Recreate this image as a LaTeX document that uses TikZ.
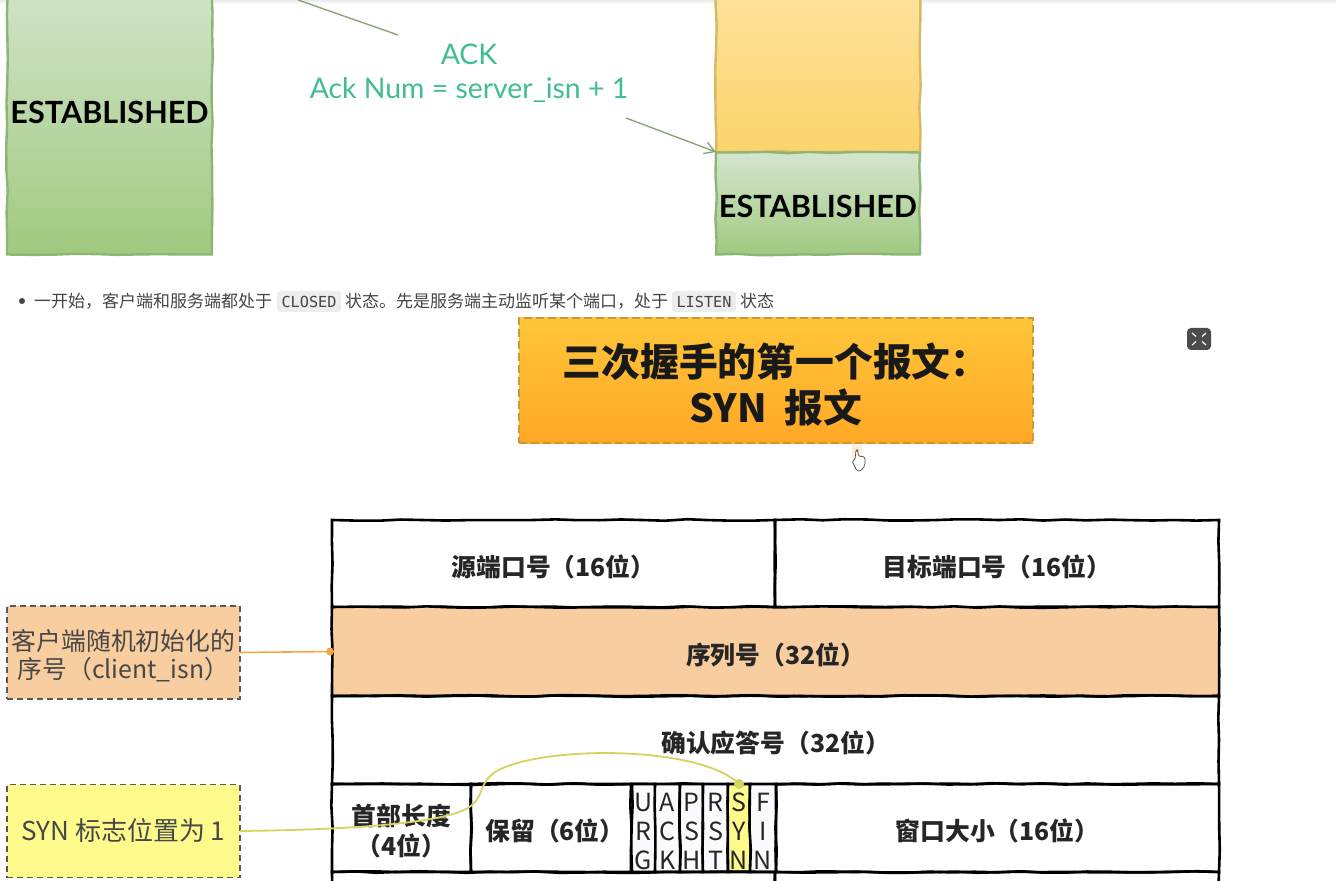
\documentclass[tikz,border=0pt]{standalone}
\usepackage{fontspec}
\setmainfont{Noto Sans CJK SC}
\newfontfamily\latinfont{Lato}
\newfontfamily\codefont{DejaVu Sans Mono}
\usetikzlibrary{decorations.pathmorphing,arrows.meta}
\definecolor{estline}{HTML}{8FB573}
\definecolor{estlight}{HTML}{D5E5CF}
\definecolor{estfill}{HTML}{A0C97F}
\definecolor{yelline}{HTML}{D6B963}
\definecolor{yellight}{HTML}{FEE39F}
\definecolor{yelfill}{HTML}{FCD46C}
\definecolor{titleline}{HTML}{C99A3A}
\definecolor{titletop}{HTML}{FFC63A}
\definecolor{titlebot}{HTML}{FFA826}
\definecolor{acktext}{HTML}{3FBE8E}
\definecolor{seqfill}{HTML}{F8CD9F}
\definecolor{synfill}{HTML}{FFFA8C}
\definecolor{synline}{HTML}{D6D25E}
\definecolor{orgline}{HTML}{EFA84A}
\definecolor{bodytext}{HTML}{444444}
\newcommand{\low}[1]{\raisebox{-1.5pt}[\height][\depth]{#1}}
\tikzset{
    rough/.style={decorate,decoration={random steps,segment length=11pt,amplitude=0.4pt}},
    box/.style={rectangle,inner sep=0pt,outer sep=0pt,rough},
    estbox/.style={box,draw=estline,line width=1.2pt,top color=estlight,bottom color=estfill,font=\bfseries\latinfont\fontsize{15.3}{17}\selectfont},
    cell/.style={box,draw=black,line width=1.3pt,font=\bfseries\fontsize{12.4}{15}\selectfont,text=black!85},
    flag/.style={cell,fill=blue!2,minimum width=11.5pt,minimum height=44pt,align=center,font=\fontsize{12.5}{14.5}\selectfont},
    note/.style={rectangle,inner sep=0pt,outer sep=0pt,draw=black!65,densely dashed,line width=.6pt,minimum width=116.5pt,minimum height=46.5pt,align=center,text=black!72,font=\fontsize{12.4}{14}\selectfont},
    para/.style={inner sep=0pt,outer sep=0pt,text=bodytext,font=\fontsize{8.5}{10}\selectfont},
    chip/.style={rectangle,rounded corners=1.5pt,inner sep=0pt,outer sep=0pt,fill=black!7,text=bodytext,minimum height=10.5pt,font=\codefont\fontsize{7.6}{9}\selectfont},
    ackline/.style={draw=estline!70!gray,line width=.7pt},
}
\begin{document}
\begin{tikzpicture}[x=.5pt,y=-.5pt,>={Straight Barb[length=5pt,width=6pt]}]
    \useasboundingbox (0,0) rectangle (1336,881);
    \clip (0,0) rectangle (1336,881);
    % page edge at the top
    \fill[top color=black!8,bottom color=white] (0,0) rectangle (1336,4);
    % state columns
    \node[estbox,minimum width=102.5pt,minimum height=142pt] (clientest) at (109.5,112.5) {ESTABLISHED};
    \node[box,draw=yelline,line width=1.2pt,top color=yellight,bottom color=yelfill,minimum width=102pt,minimum height=85pt] (serverwait) at (818,67) {};
    \node[estbox,minimum width=102pt,minimum height=51pt] (serverest) at (818,203.5) {\low{ESTABLISHED}};
    % ack message
    \node[inner sep=0pt,text=acktext,align=center,font=\latinfont\fontsize{14.2}{16.8}\selectfont] (ack) at (469,73) {ACK\\Ack Num = server\_isn + 1};
    \coordinate (ackstart) at (298,0);
    \coordinate (ackmid) at (398,35);
    \coordinate (ackgo) at (626,118);
    \draw[ackline] (ackstart) -- (ackmid);
    \draw[ackline,->] (ackgo) -- (serverwait.south west);
    % bullet line
    \node[circle,fill=bodytext,inner sep=0pt,minimum size=3pt] (bullet) at (22,301) {};
    \node[para,anchor=west] (textone) at (34,301) {一开始，客户端和服务端都处于};
    \node[chip,minimum width=32pt] (closed) at (309,301.5) {CLOSED};
    \node[para,anchor=west] (texttwo) at (345,301) {状态。先是服务端主动监听某个端口，处于};
    \node[chip,minimum width=32pt] (listen) at (704,301.5) {LISTEN};
    \node[para,anchor=west] (textthree) at (740,301) {状态};
    % title
    \node[rectangle,inner sep=0pt,outer sep=0pt,draw=titleline,dash pattern=on 4pt off 2pt,line width=1.4pt,top color=titletop,bottom color=titlebot,minimum width=257pt,minimum height=62.5pt] (titlebox) at (776,380.5) {};
    \node[inner sep=0pt,align=center,text=black!90,font=\bfseries\fontsize{19.4}{23}\selectfont] (title) at (776,385) {三次握手的第一个报文：\\SYN\ \ 报文};
    % expand button
    \node[rectangle,rounded corners=2pt,fill=black!70,minimum width=12pt,minimum height=11pt,inner sep=0pt] (expand) at (1199,339) {};
    \draw[white,line width=.6pt] (expand.center) ++(-3,-2.5) -- ++(-4,-3.5);
    \draw[white,line width=.6pt] (expand.center) ++(3,-2.5) -- ++(4,-3.5);
    \draw[white,line width=.6pt] (expand.center) ++(-3,2.5) -- ++(-4,3.5);
    \draw[white,line width=.6pt] (expand.center) ++(3,2.5) -- ++(4,3.5);
    % mouse pointer
    \fill[orange!15] (852,445) rectangle (862,460);
    \draw[black!70,fill=white,line width=.35pt,rounded corners=.8pt] (856,450) -- (858,450) -- (858,456) -- (865,457) -- (865,465) -- (861,471) -- (857,471) -- (852,461) -- (855,460) -- cycle;
    % header table
    \node[cell,minimum width=221.5pt,minimum height=43.5pt] (srcport) at (553.5,563.5) {\low{源端口号（16位）}};
    \node[cell,minimum width=222pt,minimum height=43.5pt] (dstport) at (997,563.5) {\low{目标端口号（16位）}};
    \node[cell,fill=seqfill,minimum width=443.5pt,minimum height=44.5pt] (seqnum) at (775.5,651.5) {\low{序列号（32位）}};
    \node[cell,minimum width=443.5pt,minimum height=44pt] (acknum) at (775.5,740) {\low{确认应答号（32位）}};
    \node[cell,align=center,minimum width=69.5pt,minimum height=44pt] (hdrlen) at (401.5,828) {\low{首部长度}\\\low{（4位）}};
    \node[cell,minimum width=80pt,minimum height=44pt] (reserved) at (551,828) {\hspace{4pt}\low{保留（6位）}};
    \node[flag] (urg) at (643.5,828) {\low{U}\\\low{R}\\\low{G}};
    \node[flag,minimum width=12.5pt] (ackflag) at (667.5,828) {\low{A}\\\low{C}\\\low{K}};
    \node[flag] (psh) at (691.5,828) {\low{P}\\\low{S}\\\low{H}};
    \node[flag,minimum width=12.5pt] (rst) at (715.5,828) {\low{R}\\\low{S}\\\low{T}};
    \node[flag,fill=synfill,minimum width=11pt] (syn) at (739,828) {\low{S}\\\low{Y}\\\low{N}};
    \node[flag,minimum width=13pt] (fin) at (763,828) {\low{F}\\\low{I}\\\low{N}};
    \node[cell,minimum width=221.5pt,minimum height=44pt] (window) at (997.5,828) {\low{窗口大小（16位）}};
    \node[cell,minimum width=221.5pt,minimum height=20pt] (nextleft) at (553.5,892) {};
    \node[cell,minimum width=222pt,minimum height=20pt] (nextright) at (997,892) {};
    % notes on the left
    \node[note,fill=seqfill] (isnnote) at (123.5,652.5) {\low{客户端随机初始化的}\\\low{序号（client\_isn）}};
    \node[note,fill=synfill,font=\fontsize{13}{15}\selectfont] (synnote) at (123.5,831) {SYN 标志位置为 1};
    \draw[orgline,line width=.8pt] (isnnote.east) -- (seqnum.west);
    \fill[orgline] (seqnum.west) ++(-2,0) circle (2pt);
    \draw[synline,line width=.9pt] (synnote.east) .. controls (330,830) and (450,825) .. (472,805) .. controls (485,793) and (478,785) .. (495,772) .. controls (540,745) and (700,745) .. (syn.north);
    \fill[synline] (syn.north) circle (2.5pt);
\end{tikzpicture}
\end{document}
